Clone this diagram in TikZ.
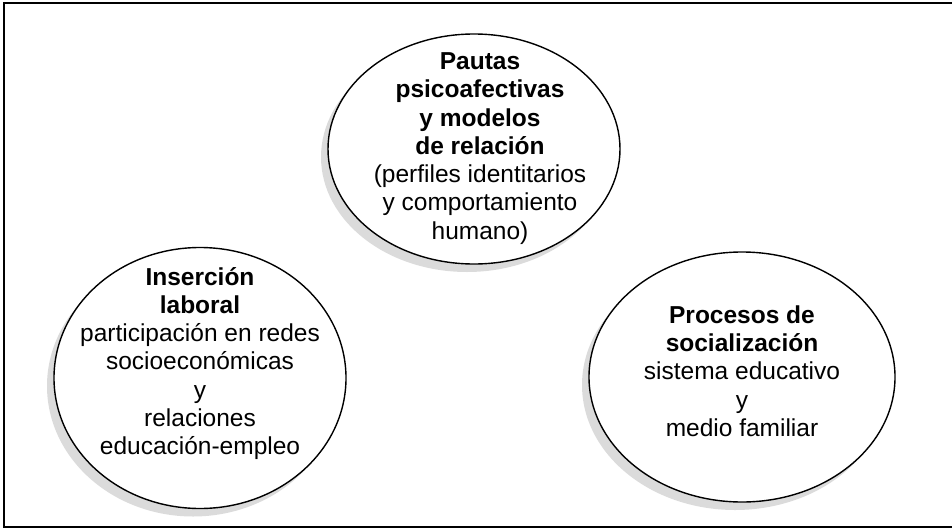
\documentclass[tikz,border=0pt]{standalone}
\usepackage{fontspec}
\setmainfont{Liberation Sans}
\usetikzlibrary{shapes.geometric,shadows}
\begin{document}
\begin{tikzpicture}[x=1pt,y=-1pt,
  bubble/.style={ellipse, draw=black, line width=1.4pt, fill=white, inner sep=0pt,
    drop shadow={shadow xshift=-7pt, shadow yshift=-8pt, fill=black!14, opacity=1}},
  txt/.style={align=center, font=\fontsize{24.5}{28.3}\selectfont, inner sep=0pt}]
\useasboundingbox (0,0) rectangle (952,530);
\draw[line width=2.5pt] (953,3) -- (4,3) -- (4,527) -- (953,527);

\node[bubble, minimum width=292pt, minimum height=230pt] (top) at (474,149) {};
\node[txt] (toptext) at (480,148.5) {\textbf{Pautas}\\\textbf{psicoafectivas}\\\textbf{y modelos}\\\textbf{de relación}\\(perfiles identitarios\\y comportamiento\\humano)};

\node[bubble, minimum width=292pt, minimum height=261pt] (left) at (200,378) {};
\node[txt] (lefttext) at (200,363.5) {\textbf{Inserción}\\\textbf{laboral}\\participación en redes\\socioeconómicas\\y\\relaciones\\educación-empleo};

\node[bubble, minimum width=306pt, minimum height=250pt] (right) at (742,377) {};
\node[txt] (righttext) at (742,371) {\textbf{Procesos de}\\\textbf{socialización}\\sistema educativo\\y\\medio familiar};
\end{tikzpicture}
\end{document}
